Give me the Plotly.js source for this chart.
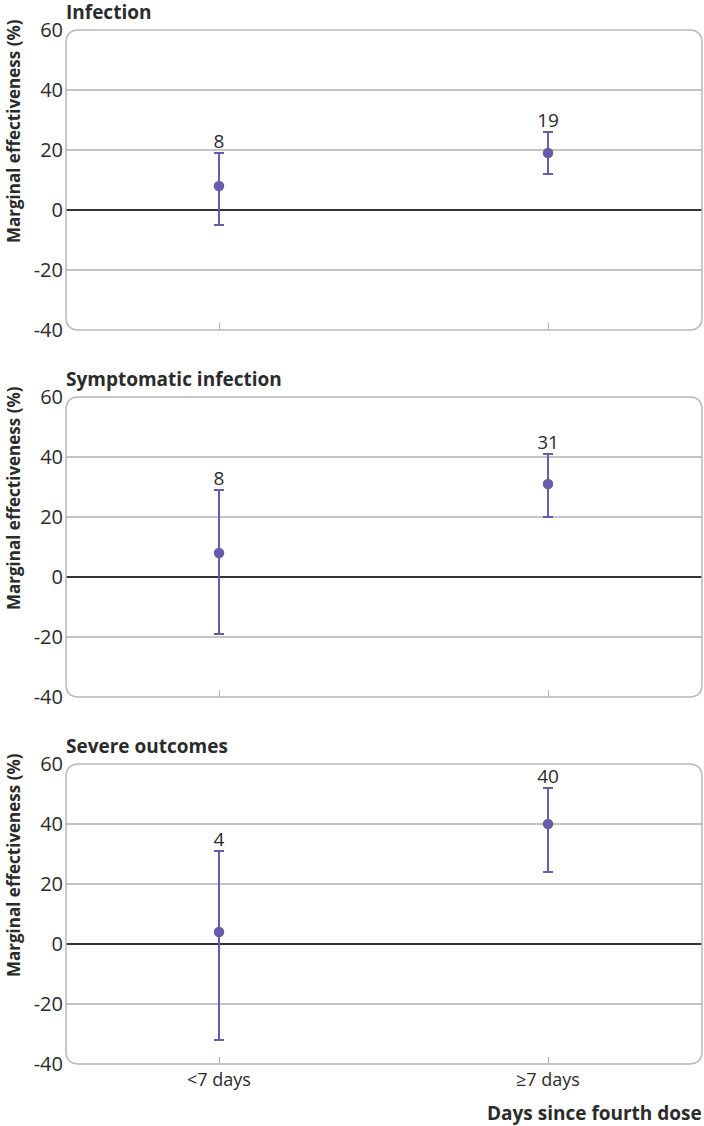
<!DOCTYPE html>
<html>
<head>
<meta charset="utf-8">
<script src="https://cdn.plot.ly/plotly-3.0.1.min.js"></script>
<style>html,body{margin:0;padding:0;background:#fff;}#chart{width:704px;height:1126px;}</style>
</head>
<body>
<div id="chart"></div>
<script>
// ---- data ----
const categories = ['<7 days', '≥7 days'];
const panelTitles = ['Infection', 'Symptomatic infection', 'Severe outcomes'];
const estimates = [[8, 19], [8, 31], [4, 40]];
const lowerCI = [[-5, 12], [-19, 20], [-32, 24]];
const upperCI = [[19, 26], [29, 41], [31, 52]];
const yTickVals = [-40, -20, 0, 20, 40, 60];
const yTickText = ['-40', '-20', '0', '20', '40', '60'];
const yAxisTitle = 'Marginal effectiveness (%)';
const xAxisTitle = 'Days since fourth dose';

// ---- style ----
const FONT = '"Open Sans", "Noto Sans", sans-serif';
const PURPLE = '#6a5aa9';
const TEXT = '#2b2b2b';
const GRID = '#c4c4c4';
const BORDER = '#b8b8b8';
const W = 704, H = 1126;
const M = {l: 66, r: 2, t: 30, b: 62};
const PW = W - M.l - M.r, PH = H - M.t - M.b;
const panelH = 300, gap = 67;
const domains = [0, 1, 2].map(i => {
  const topPx = i * (panelH + gap);
  return [1 - (topPx + panelH) / PH, 1 - topPx / PH];
});

const traces = [];
const layout = {
  width: W, height: H, margin: M,
  paper_bgcolor: '#fff', plot_bgcolor: '#fff',
  showlegend: false,
  font: {family: FONT, size: 18, color: TEXT},
  shapes: [], annotations: []
};

function roundedRect(x0, x1, y0, y1, r) {
  const rx = r / PW, ry = r / PH;
  return `M ${x0 + rx},${y1} L ${x1 - rx},${y1} Q ${x1},${y1} ${x1},${y1 - ry} ` +
    `L ${x1},${y0 + ry} Q ${x1},${y0} ${x1 - rx},${y0} L ${x0 + rx},${y0} ` +
    `Q ${x0},${y0} ${x0},${y0 + ry} L ${x0},${y1 - ry} Q ${x0},${y1} ${x0 + rx},${y1} Z`;
}
function cornerMasks(x0, x1, y0, y1, r) {
  const rx = r / PW, ry = r / PH;
  return [
    `M ${x0},${y1} L ${x0 + rx},${y1} Q ${x0},${y1} ${x0},${y1 - ry} Z`,
    `M ${x1},${y1} L ${x1 - rx},${y1} Q ${x1},${y1} ${x1},${y1 - ry} Z`,
    `M ${x1},${y0} L ${x1 - rx},${y0} Q ${x1},${y0} ${x1},${y0 + ry} Z`,
    `M ${x0},${y0} L ${x0 + rx},${y0} Q ${x0},${y0} ${x0},${y0 + ry} Z`
  ];
}

panelTitles.forEach((title, i) => {
  const sfx = i === 0 ? '' : String(i + 1);
  const xa = 'x' + sfx, ya = 'y' + sfx;
  const est = estimates[i];
  traces.push({
    type: 'scatter', mode: 'markers', x: categories, y: est,
    xaxis: xa, yaxis: ya,
    marker: {color: PURPLE, size: 10.5},
    error_y: {
      type: 'data', symmetric: false,
      array: upperCI[i].map((u, j) => u - est[j]),
      arrayminus: lowerCI[i].map((l, j) => est[j] - l),
      color: PURPLE, thickness: 2, width: 5
    },
    hoverinfo: 'skip'
  });
  traces.push({
    type: 'scatter', mode: 'text', x: categories, y: upperCI[i],
    xaxis: xa, yaxis: ya,
    text: est.map(String), textposition: 'top center',
    textfont: {family: FONT, size: 19, color: TEXT},
    hoverinfo: 'skip'
  });
  layout['xaxis' + sfx] = {
    type: 'category', categoryarray: categories, categoryorder: 'array',
    range: [-0.465, 1.468], anchor: ya, domain: [0, 1],
    showgrid: false, zeroline: false, showline: false,
    ticks: 'inside', ticklen: 7, tickwidth: 1, tickcolor: '#b0b0b0',
    showticklabels: i === 2, ticklabelstandoff: 3,
    tickfont: {family: FONT, size: 18, color: TEXT},
    fixedrange: true
  };
  layout['yaxis' + sfx] = {
    range: [-40, 60], domain: domains[i], anchor: xa,
    tickmode: 'array', tickvals: yTickVals, ticktext: yTickText,
    showgrid: true, gridcolor: GRID, gridwidth: 1.5,
    zeroline: true, zerolinecolor: '#333', zerolinewidth: 1.5,
    showline: false, ticks: '', ticklabelstandoff: 2,
    tickfont: {family: FONT, size: 20, color: TEXT},
    fixedrange: true
  };
  const [d0, d1] = domains[i];
  cornerMasks(0, 1, d0, d1, 13).forEach(p => layout.shapes.push({
    type: 'path', xref: 'paper', yref: 'paper', path: p,
    fillcolor: '#fff', line: {width: 0}, layer: 'above'
  }));
  layout.shapes.push({
    type: 'path', xref: 'paper', yref: 'paper', path: roundedRect(0, 1, d0, d1, 13),
    line: {color: BORDER, width: 1.5}, fillcolor: 'rgba(0,0,0,0)', layer: 'above'
  });
  layout.annotations.push({
    xref: 'paper', yref: 'paper', x: 0, y: d1, xanchor: 'left', yanchor: 'bottom',
    xshift: -2, yshift: 3, showarrow: false, text: '<b>' + title + '</b>',
    font: {family: FONT, size: 19, color: TEXT}
  });
  layout.annotations.push({
    xref: 'paper', yref: 'paper', x: 0, y: (d0 + d1) / 2, xanchor: 'center', yanchor: 'middle',
    xshift: -53, yshift: 49, textangle: -90, showarrow: false, text: '<b>' + yAxisTitle + '</b>',
    font: {family: FONT, size: 17, color: TEXT}
  });
});
layout.annotations.push({
  xref: 'paper', yref: 'paper', x: 1, y: 0, xanchor: 'right', yanchor: 'middle',
  xshift: 2, yshift: -49, showarrow: false, text: '<b>' + xAxisTitle + '</b>',
  font: {family: FONT, size: 19, color: TEXT}
});

Plotly.newPlot('chart', traces, layout, {staticPlot: true, displayModeBar: false});
</script>
</body>
</html>
